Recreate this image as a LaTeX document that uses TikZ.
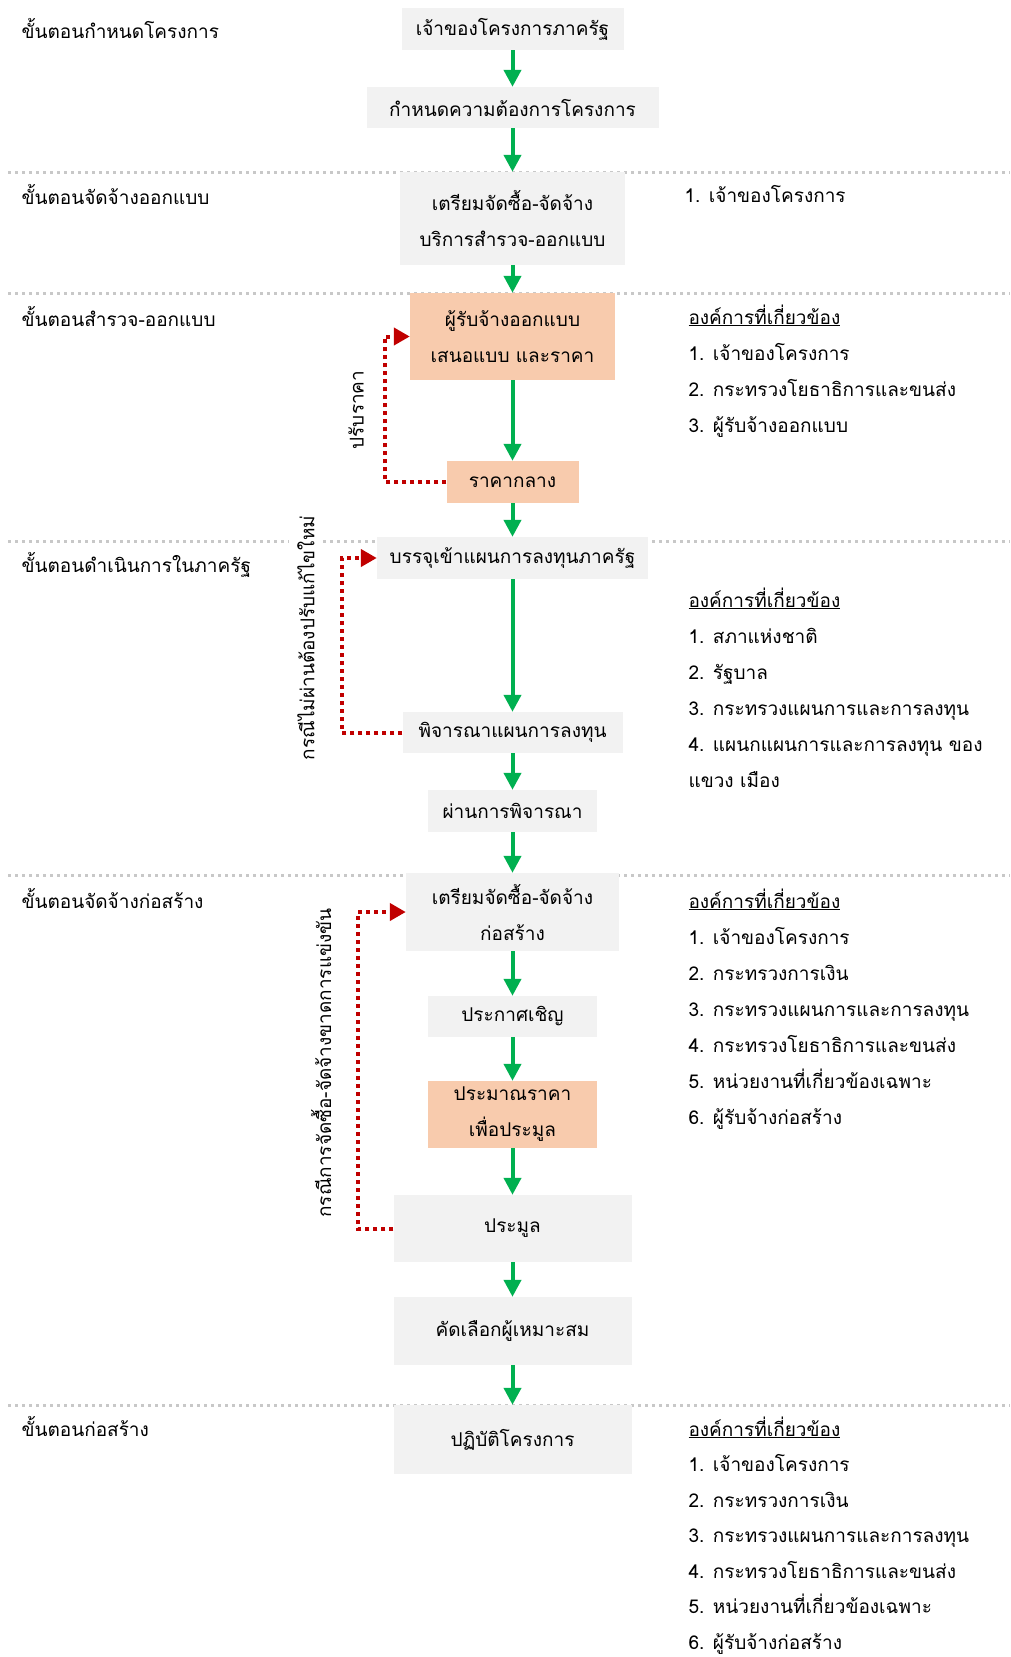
\documentclass[tikz,border=0pt]{standalone}
\usepackage{fontspec}
\setmainfont[Script=Thai]{Loma}
\usetikzlibrary{arrows.meta}

\definecolor{boxgray}{HTML}{F2F2F2}
\definecolor{boxorange}{HTML}{F8CBAD}
\definecolor{flowgreen}{HTML}{00B050}
\definecolor{loopred}{HTML}{C00000}
\definecolor{sepgray}{HTML}{C8C8C8}

\tikzset{
  every node/.style={font=\fontsize{19}{36}\selectfont, text=black},
  stepbox/.style={fill=boxgray, inner sep=0pt, align=center},
  pricebox/.style={fill=boxorange, inner sep=0pt, align=center},
  flow/.style={draw=flowgreen, line width=4pt, -{Triangle[width=17pt,length=17pt]}},
  backloop/.style={draw=loopred, line width=4pt, dash pattern=on 4pt off 4pt,
                   -{Triangle[width=17pt,length=16pt]}},
  separator/.style={draw=sepgray, line width=3pt, dash pattern=on 3pt off 4pt},
  phase/.style={anchor=base west},
  orglist/.style={anchor=base west},
  looplabel/.style={rotate=90, fill=white, inner sep=8pt}
}

\begin{document}
\begin{tikzpicture}[x=1pt,y=-1pt]
\useasboundingbox (0,0) rectangle (1010,1657);

% phase separators
\foreach \yy in {172,293,541,875,1405}
  \draw[separator] (8,\yy) -- (1010,\yy);

% phase names
\node[phase] (p1) at (18,38)   {ขั้นตอนกำหนดโครงการ};
\node[phase] (p2) at (18,204)  {ขั้นตอนจัดจ้างออกแบบ};
\node[phase] (p3) at (18,326)  {ขั้นตอนสำรวจ-ออกแบบ};
\node[phase] (p4) at (18,572)  {ขั้นตอนดำเนินการในภาครัฐ};
\node[phase] (p5) at (18,908)  {ขั้นตอนจัดจ้างก่อสร้าง};
\node[phase] (p6) at (18,1436) {ขั้นตอนก่อสร้าง};

% process boxes
\node[stepbox, minimum width=222pt, minimum height=42pt] (b1) at (512.5,29) {เจ้าของโครงการภาครัฐ};
\node[stepbox, minimum width=292pt, minimum height=41pt] (b2) at (512.5,107.5) {กำหนดความต้องการโครงการ};
\node[stepbox, minimum width=225pt, minimum height=93pt] (b3) at (512.5,218.5) {เตรียมจัดซื้อ-จัดจ้าง\\บริการสำรวจ-ออกแบบ};
\node[pricebox, minimum width=205pt, minimum height=87pt] (b4) at (512.5,336.5) {ผู้รับจ้างออกแบบ\\เสนอแบบ และราคา};
\node[pricebox, minimum width=132pt, minimum height=42pt] (b5) at (512.5,482) {ราคากลาง};
\node[stepbox, minimum width=271pt, minimum height=42pt] (b6) at (512.5,558) {บรรจุเข้าแผนการลงทุนภาครัฐ};
\node[stepbox, minimum width=220pt, minimum height=41pt] (b7) at (512.5,732.5) {พิจารณาแผนการลงทุน};
\node[stepbox, minimum width=169pt, minimum height=42pt] (b8) at (512.5,811) {ผ่านการพิจารณา};
\node[stepbox, minimum width=213pt, minimum height=78pt] (b9) at (512.5,912) {เตรียมจัดซื้อ-จัดจ้าง\\ก่อสร้าง};
\node[stepbox, minimum width=169pt, minimum height=41pt] (b10) at (512.5,1016.5) {ประกาศเชิญ};
\node[pricebox, minimum width=169pt, minimum height=67pt] (b11) at (512.5,1114.5) {ประมาณราคา\\เพื่อประมูล};
\node[stepbox, minimum width=238pt, minimum height=67pt] (b12) at (512.5,1228.5) {ประมูล};
\node[stepbox, minimum width=238pt, minimum height=68pt] (b13) at (512.5,1331) {คัดเลือกผู้เหมาะสม};
\node[stepbox, minimum width=238pt, minimum height=69pt] (b14) at (512.5,1439.5) {ปฏิบัติโครงการ};

% main flow
\foreach \a/\b in {b1/b2,b2/b3,b3/b4,b4/b5,b5/b6,b6/b7,b7/b8,b8/b9,b9/b10,b10/b11,b11/b12,b12/b13,b13/b14}
  \draw[flow] (\a.south) -- (\b.north);

% feedback loops
\node[looplabel] (l1) at (356,410)  {ปรับราคา};
\node[looplabel] (l2) at (306,638)  {กรณีไม่ผ่านต้องปรับแก้ไขใหม่};
\node[looplabel] (l3) at (321,1063) {กรณีการจัดซื้อ-จัดจ้างขาดการแข่งขัน};

\draw[backloop] (b5.west) -- (385,482) -- (385,336.5) -- (b4.west);
\draw[backloop] (b7.west) -- (342,732.5) -- (342,558) -- (b6.west);
\draw[backloop] (b12.west) -- (358,1228.5) -- (358,912) -- (b9.west);

% organisations involved
\node[orglist] (o1) at (681,202) {1. เจ้าของโครงการ};

\node[orglist] (h2) at (685,324) {\underline{องค์การที่เกี่ยวข้อง}};
\node[orglist] (o21) at (685,360) {1. เจ้าของโครงการ};
\node[orglist] (o22) at (685,396) {2. กระทรวงโยธาธิการและขนส่ง};
\node[orglist] (o23) at (685,432) {3. ผู้รับจ้างออกแบบ};

\node[orglist] (h3) at (685,607) {\underline{องค์การที่เกี่ยวข้อง}};
\node[orglist] (o31) at (685,643) {1. สภาแห่งชาติ};
\node[orglist] (o32) at (685,679) {2. รัฐบาล};
\node[orglist] (o33) at (685,715) {3. กระทรวงแผนการและการลงทุน};
\node[orglist] (o34) at (685,751) {4. แผนกแผนการและการลงทุน ของ};
\node[orglist] (o35) at (685,787) {แขวง เมือง};

\node[orglist] (h4) at (685,908) {\underline{องค์การที่เกี่ยวข้อง}};
\node[orglist] (o41) at (685,944) {1. เจ้าของโครงการ};
\node[orglist] (o42) at (685,980) {2. กระทรวงการเงิน};
\node[orglist] (o43) at (685,1016) {3. กระทรวงแผนการและการลงทุน};
\node[orglist] (o44) at (685,1052) {4. กระทรวงโยธาธิการและขนส่ง};
\node[orglist] (o45) at (685,1088) {5. หน่วยงานที่เกี่ยวข้องเฉพาะ};
\node[orglist] (o46) at (685,1124) {6. ผู้รับจ้างก่อสร้าง};

\node[orglist] (h5) at (685,1436) {\underline{องค์การที่เกี่ยวข้อง}};
\node[orglist] (o51) at (685,1471.5) {1. เจ้าของโครงการ};
\node[orglist] (o52) at (685,1507) {2. กระทรวงการเงิน};
\node[orglist] (o53) at (685,1542.5) {3. กระทรวงแผนการและการลงทุน};
\node[orglist] (o54) at (685,1578) {4. กระทรวงโยธาธิการและขนส่ง};
\node[orglist] (o55) at (685,1613.5) {5. หน่วยงานที่เกี่ยวข้องเฉพาะ};
\node[orglist] (o56) at (685,1649) {6. ผู้รับจ้างก่อสร้าง};
\end{tikzpicture}
\end{document}
